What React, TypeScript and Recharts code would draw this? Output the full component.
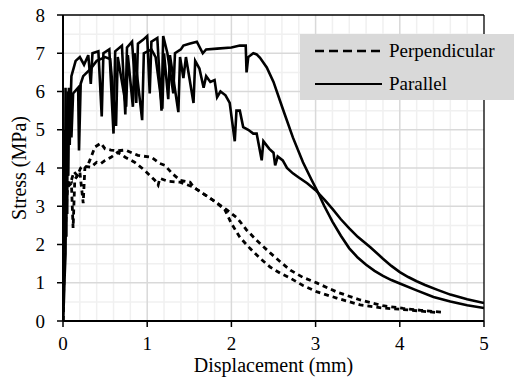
import { LineChart, Line, XAxis, YAxis, ReferenceLine } from 'recharts';

type Pt = { x: number; y: number };
const toPts = (rows: number[][]): Pt[] => rows.map(([x, y]) => ({ x, y }));

// parallel specimen that keeps its plateau until ~2.2 mm
const parallelA = toPts([
  [0, 0], [0.01, 2.5], [0.02, 5], [0.025, 2.8], [0.03, 6.1], [0.04, 3.2], [0.05, 5.6], [0.06, 3.8],
  [0.07, 6.0], [0.08, 5.0], [0.1, 6.4], [0.15, 6.8], [0.2, 6.9], [0.25, 6.7], [0.3, 6.95], [0.33, 6.2],
  [0.35, 7.0], [0.42, 7.05], [0.46, 5.35], [0.48, 7.0], [0.55, 7.1], [0.6, 4.9], [0.62, 7.05],
  [0.7, 7.2], [0.74, 5.4], [0.76, 7.15], [0.82, 7.3], [0.87, 5.7], [0.89, 7.25], [0.95, 7.35],
  [1.0, 7.45], [1.03, 5.95], [1.05, 7.3], [1.12, 7.4], [1.17, 5.5], [1.19, 7.45], [1.24, 7.0],
  [1.31, 5.95], [1.33, 7.0], [1.4, 7.1], [1.43, 7.2], [1.5, 7.25], [1.59, 7.3], [1.66, 7.0],
  [1.7, 7.1], [1.83, 7.12], [2.0, 7.15], [2.1, 7.2], [2.17, 7.2], [2.18, 6.5], [2.2, 6.9],
  [2.26, 7.0], [2.3, 6.97], [2.34, 6.88], [2.42, 6.63], [2.5, 6.25], [2.61, 5.55], [2.73, 4.8],
  [2.85, 4.15], [2.95, 3.7], [3.02, 3.4], [3.1, 3.02], [3.2, 2.6], [3.3, 2.23], [3.4, 1.9],
  [3.5, 1.66], [3.6, 1.47], [3.7, 1.31], [3.8, 1.18], [3.9, 1.07], [4.0, 0.98], [4.2, 0.8],
  [4.4, 0.63], [4.6, 0.51], [4.8, 0.41], [5, 0.34],
]);

// parallel specimen that softens gradually after ~1.5 mm
const parallelB = toPts([
  [0, 0], [0.01, 0.5], [0.02, 1.2], [0.03, 1.75], [0.035, 4.0], [0.04, 2.2], [0.045, 5.2],
  [0.05, 2.8], [0.055, 6.0], [0.06, 3.8], [0.07, 6.1], [0.08, 4.6], [0.09, 5.8], [0.1, 4.8],
  [0.12, 5.95], [0.18, 6.1], [0.19, 4.46], [0.21, 6.2], [0.24, 6.4], [0.33, 6.6], [0.4, 6.8],
  [0.5, 6.9], [0.56, 6.85], [0.63, 5.1], [0.65, 6.9], [0.75, 5.6], [0.77, 6.95], [0.83, 5.6],
  [0.85, 7.0], [0.94, 5.25], [0.96, 7.0], [1.05, 7.1], [1.1, 6.9], [1.18, 5.55], [1.2, 7.0],
  [1.25, 5.8], [1.27, 6.95], [1.37, 5.46], [1.39, 6.9], [1.43, 6.35], [1.46, 6.9], [1.55, 5.7],
  [1.57, 6.8], [1.62, 6.6], [1.67, 6.1], [1.7, 6.4], [1.75, 6.25], [1.8, 6.3], [1.83, 5.85],
  [1.87, 6.0], [1.93, 5.9], [1.98, 5.7], [2.04, 4.7], [2.06, 5.5], [2.1, 5.5], [2.14, 5.07],
  [2.2, 5.0], [2.26, 4.9], [2.3, 4.9], [2.36, 4.2], [2.38, 4.7], [2.45, 4.5], [2.5, 4.4],
  [2.52, 4.07], [2.55, 4.3], [2.61, 4.2], [2.66, 4.0], [2.73, 3.86], [2.8, 3.75], [2.9, 3.6],
  [3.0, 3.42], [3.11, 3.16], [3.2, 2.93], [3.3, 2.66], [3.4, 2.42], [3.5, 2.2], [3.65, 1.93],
  [3.8, 1.63], [3.9, 1.44], [4.0, 1.28], [4.1, 1.15], [4.2, 1.04], [4.3, 0.94], [4.44, 0.82],
  [4.6, 0.69], [4.8, 0.57], [5, 0.47],
]);

const perpA = toPts([
  [0, 0], [0.02, 2.5], [0.05, 3.5], [0.1, 3.6], [0.12, 2.43], [0.14, 3.7], [0.2, 3.9], [0.24, 3.08],
  [0.26, 4.0], [0.3, 4.1], [0.38, 4.55], [0.45, 4.65], [0.5, 4.5], [0.57, 4.47], [0.65, 4.45],
  [0.74, 4.47], [0.89, 4.33], [1.05, 4.28], [1.15, 4.12], [1.21, 4.07], [1.3, 3.85], [1.39, 3.68],
  [1.51, 3.63], [1.55, 3.5], [1.78, 3.16], [1.95, 2.9], [2.07, 2.69], [2.18, 2.38], [2.3, 2.11],
  [2.46, 1.78], [2.58, 1.55], [2.7, 1.33], [2.85, 1.14], [3.02, 0.99], [3.25, 0.76], [3.53, 0.55],
  [3.8, 0.4], [4.04, 0.33], [4.25, 0.28], [4.5, 0.23],
]);

const perpB = toPts([
  [0, 0], [0.02, 2.0], [0.05, 3.4], [0.08, 3.7], [0.1, 3.68], [0.13, 3.9], [0.17, 3.8], [0.21, 4.0],
  [0.25, 4.05], [0.33, 4.02], [0.4, 4.15], [0.45, 4.12], [0.5, 4.2], [0.57, 4.28], [0.65, 4.41],
  [0.74, 4.28], [0.85, 4.15], [0.97, 3.94], [1.09, 3.68], [1.13, 3.55], [1.15, 3.73], [1.25, 3.65],
  [1.39, 3.63], [1.55, 3.5], [1.78, 3.16], [1.92, 2.92], [2.0, 2.55], [2.1, 2.19], [2.22, 1.9],
  [2.34, 1.64], [2.46, 1.41], [2.58, 1.25], [2.7, 1.12], [2.85, 0.93], [3.02, 0.76], [3.25, 0.6],
  [3.53, 0.42], [3.8, 0.34], [4.04, 0.3], [4.25, 0.26], [4.44, 0.22],
]);

const xTicks = [0, 1, 2, 3, 4, 5];
const yTicks = [0, 1, 2, 3, 4, 5, 6, 7, 8];
const xMinor = [0.2, 0.4, 0.6, 0.8, 1.2, 1.4, 1.6, 1.8, 2.2, 2.4, 2.6, 2.8, 3.2, 3.4, 3.6, 3.8, 4.2, 4.4, 4.6, 4.8];
const yMinor = [0.5, 1.5, 2.5, 3.5, 4.5, 5.5, 6.5, 7.5];
const seriesNames = ['Perpendicular', 'Parallel'];

const FONT = "'Times New Roman', 'Liberation Serif', 'DejaVu Serif', serif";

function LegendBox() {
  return (
    <svg width={214} height={66} style={{ display: 'block' }}>
      <rect x={0} y={0} width={214} height={66} fill="#d9d9d9" />
      <line x1={15} x2={82} y1={17} y2={17} stroke="#000" strokeWidth={2.5} strokeDasharray="9 5" />
      <text x={89} y={23} style={{ fontFamily: FONT }} fontSize={19} fill="#000">{seriesNames[0]}</text>
      <line x1={15} x2={82} y1={50} y2={50} stroke="#000" strokeWidth={1.8} />
      <text x={89} y={56} style={{ fontFamily: FONT }} fontSize={19} fill="#000">{seriesNames[1]}</text>
    </svg>
  );
}

export default function App() {
  return (
    <div style={{ position: 'relative', width: 515, height: 380, background: '#fff', fontFamily: FONT }}>
      <style>{`body{margin:0}`}</style>
      <LineChart width={515} height={380} margin={{ top: 15, right: 31, bottom: 0, left: 0 }} style={{ fontFamily: FONT }}>
        <XAxis
          type="number"
          dataKey="x"
          domain={[0, 5]}
          ticks={xTicks}
          allowDataOverflow
          height={59}
          tickSize={6}
          tickMargin={10}
          axisLine={{ stroke: '#000', strokeWidth: 2 }}
          tickLine={{ stroke: '#000', strokeWidth: 1.5 }}
          tick={{ fill: '#000', fontSize: 19, style: { fontFamily: FONT } }}
          label={{
            content: ({ viewBox }: any) => (
              <text x={viewBox.x + viewBox.width / 2} y={viewBox.y + 51} textAnchor="middle" style={{ fontFamily: FONT }} fontSize={20} fill="#000">
                Displacement (mm)
              </text>
            ),
          }}
        />
        <YAxis
          type="number"
          dataKey="y"
          domain={[0, 8]}
          ticks={yTicks}
          allowDataOverflow
          width={63}
          tickSize={6}
          tickMargin={12}
          axisLine={{ stroke: '#000', strokeWidth: 2 }}
          tickLine={{ stroke: '#000', strokeWidth: 1.5 }}
          tick={{ fill: '#000', fontSize: 19, style: { fontFamily: FONT } }}
          label={{
            content: ({ viewBox }: any) => {
              const cx = viewBox.x + 19;
              const cy = viewBox.y + viewBox.height / 2;
              return (
                <text x={cx} y={cy} transform={`rotate(-90 ${cx} ${cy})`} textAnchor="middle" dominantBaseline="central" style={{ fontFamily: FONT }} fontSize={20} fill="#000">
                  Stress (MPa)
                </text>
              );
            },
          }}
        />
        {xMinor.map((v) => (
          <ReferenceLine key={`xm${v}`} x={v} stroke="#f0f0f0" strokeWidth={1.5} />
        ))}
        {yMinor.map((v) => (
          <ReferenceLine key={`ym${v}`} y={v} stroke="#f0f0f0" strokeWidth={1.5} />
        ))}
        {xTicks.slice(1, -1).map((v) => (
          <ReferenceLine key={`xM${v}`} x={v} stroke="#d9d9d9" strokeWidth={1.5} />
        ))}
        {yTicks.slice(1, -1).map((v) => (
          <ReferenceLine key={`yM${v}`} y={v} stroke="#d9d9d9" strokeWidth={1.5} />
        ))}
        <ReferenceLine y={8} stroke="#000" strokeWidth={1.3} />
        <ReferenceLine x={5} stroke="#000" strokeWidth={1.3} />
        <Line data={perpA} dataKey="y" name={seriesNames[0]} type="linear" stroke="#000" strokeWidth={2.8} strokeDasharray="5 4" dot={false} isAnimationActive={false} />
        <Line data={perpB} dataKey="y" name={seriesNames[0]} type="linear" stroke="#000" strokeWidth={2.8} strokeDasharray="5 4" dot={false} isAnimationActive={false} />
        <Line data={parallelA} dataKey="y" name={seriesNames[1]} type="linear" stroke="#000" strokeWidth={2.6} dot={false} isAnimationActive={false} />
        <Line data={parallelB} dataKey="y" name={seriesNames[1]} type="linear" stroke="#000" strokeWidth={2.6} dot={false} isAnimationActive={false} />
      </LineChart>
      <div style={{ position: 'absolute', left: 300, top: 34 }}>
        <LegendBox />
      </div>
    </div>
  );
}
